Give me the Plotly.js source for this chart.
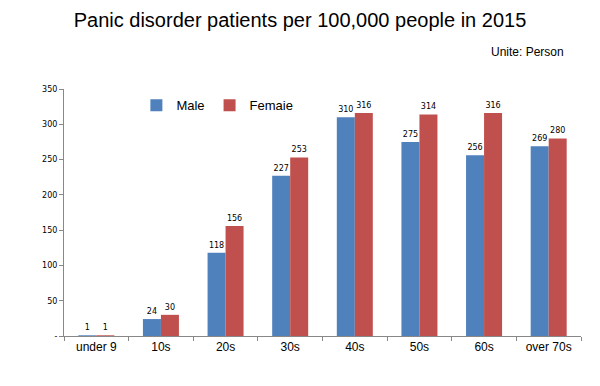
<!DOCTYPE html>
<html><head><meta charset="utf-8">
<script src="https://cdn.plot.ly/plotly-3.0.1.min.js"></script>
<style>html,body{margin:0;padding:0;background:#fff}#c{width:600px;height:386px}</style>
</head><body><div id="c"></div>
<script>
const categories = ["under 9","10s","20s","30s","40s","50s","60s","over 70s"];
const male = [1,24,118,227,310,275,256,269];
const female = [1,30,156,253,316,314,316,280];
const yTickVals = [0,50,100,150,200,250,300,350];
const yTickText = ["-","50","100","150","200","250","300","350"];

const lblFont = {family:"DejaVu Sans, sans-serif", size:8, color:"#000"};
const txtFamily = "Liberation Sans, Arial, sans-serif";
const traces = [
  {type:"bar", name:"Male", x:categories, y:male, marker:{color:"#4F81BD"},
   text:male.map(String), textposition:"outside", cliponaxis:false, textfont:lblFont},
  {type:"bar", name:"Femaie", x:categories, y:female, marker:{color:"#C0504D"},
   text:female.map(String), textposition:"outside", cliponaxis:false, textfont:lblFont}
];
const layout = {
  width:600, height:386,
  margin:{l:64, r:19, t:89, b:50},
  paper_bgcolor:"#fff", plot_bgcolor:"#fff",
  barmode:"group", bargap:0.443, bargroupgap:0,
  title:{text:"Panic disorder patients per 100,000 people in 2015", x:0.5, xanchor:"center", y:0.948, yanchor:"middle",
    font:{family:txtFamily, size:20, color:"#000"}},
  showlegend:true,
  legend:{orientation:"h", x:0.14, y:0.995, xanchor:"left", yanchor:"top", bgcolor:"rgba(0,0,0,0)",
    font:{family:txtFamily, size:13, color:"#000"}, itemwidth:30, traceorder:"normal"},
  xaxis:{type:"category", showgrid:false, showline:true, linecolor:"#888", linewidth:1,
    ticks:"outside", tickson:"boundaries", ticklen:4, tickcolor:"#888",
    tickfont:{family:txtFamily, size:12, color:"#000"}},
  yaxis:{range:[0,350], showgrid:false, zeroline:false, showline:true, linecolor:"#888", linewidth:1,
    ticks:"outside", ticklen:4, tickcolor:"#888", tickvals:yTickVals, ticktext:yTickText,
    tickfont:{family:"DejaVu Sans, sans-serif", size:8, color:"#000"}},
  annotations:[{text:"Unite: Person", xref:"paper", yref:"paper", x:0.971, y:1.148, xanchor:"right", yanchor:"middle", showarrow:false,
    font:{family:txtFamily, size:12, color:"#000"}}]
};
Plotly.newPlot("c", traces, layout, {displayModeBar:false, staticPlot:true});
</script></body></html>
